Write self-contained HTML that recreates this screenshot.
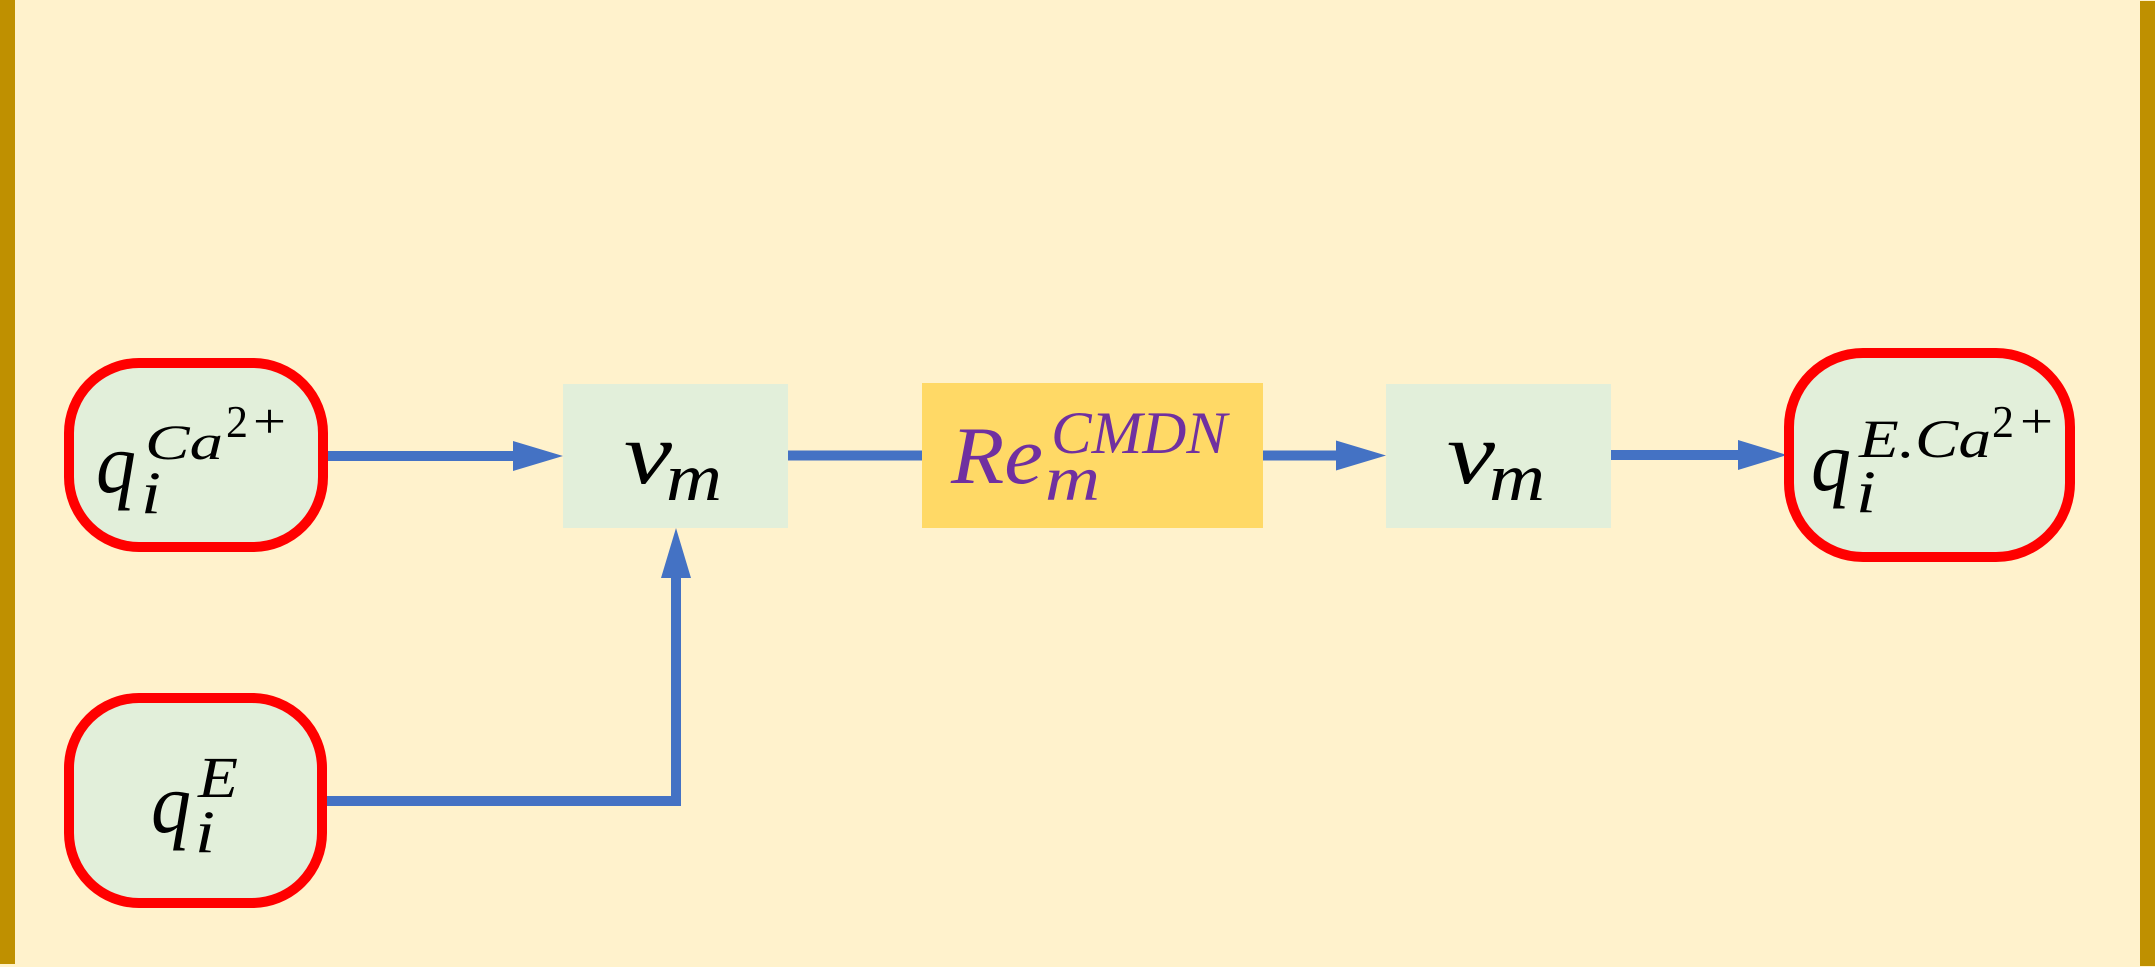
<!DOCTYPE html>
<html>
<head>
<meta charset="utf-8">
<style>
  html, body { margin: 0; padding: 0; background: #ffffff; }
  body { width: 2155px; height: 972px; overflow: hidden; }
  svg { display: block; }
  .m { font-family: "Liberation Serif", "DejaVu Serif", serif; font-style: italic; }
  .u { font-family: "Liberation Serif", "DejaVu Serif", serif; font-style: normal; }
</style>
</head>
<body>
<svg width="2155" height="972" viewBox="0 0 2155 972" xmlns="http://www.w3.org/2000/svg">
  <!-- background -->
  <rect x="0" y="0" width="2155" height="967" fill="#FFF2CC"/>
  <rect x="0" y="967" width="2155" height="5" fill="#FFFFFF"/>
  <!-- side bars -->
  <rect x="0" y="0" width="15" height="964" fill="#BF9000"/>
  <rect x="2140" y="1" width="15" height="965" fill="#BF9000"/>

  <!-- connectors -->
  <g fill="#4472C4" stroke="none">
    <rect x="323" y="451" width="192" height="10"/>
    <polygon points="513,441 563,456 513,471"/>
    <rect x="788" y="450.5" width="134" height="10"/>
    <rect x="1263" y="450.5" width="75" height="10"/>
    <polygon points="1336,440.5 1386,455.5 1336,470.5"/>
    <rect x="1611" y="450" width="129" height="10"/>
    <polygon points="1738,440 1787,455 1738,470"/>
    <rect x="325" y="796" width="356" height="10"/>
    <rect x="671" y="576" width="10" height="230"/>
    <polygon points="661,578 676,528 691,578"/>
  </g>

  <!-- rounded nodes -->
  <rect x="69" y="363" width="254" height="184" rx="70" ry="70" fill="#E2EFDA" stroke="#FF0000" stroke-width="10"/>
  <rect x="69" y="698" width="253" height="205" rx="70" ry="70" fill="#E2EFDA" stroke="#FF0000" stroke-width="10"/>
  <rect x="1789" y="353" width="281" height="204" rx="74" ry="74" fill="#E2EFDA" stroke="#FF0000" stroke-width="10"/>

  <!-- square nodes -->
  <rect x="563" y="384" width="225" height="144" fill="#E2EFDA"/>
  <rect x="922" y="383" width="341" height="145" fill="#FFD966"/>
  <rect x="1386" y="384" width="225" height="144" fill="#E2EFDA"/>

  <!-- text: q_i^{Ca^{2+}} -->
  <g fill="#000000">
    <text class="m" x="96" y="492" font-size="86" textLength="40" lengthAdjust="spacingAndGlyphs">q</text>
    <text class="m" x="141" y="513" font-size="60" textLength="20" lengthAdjust="spacingAndGlyphs">i</text>
    <text class="m" x="145" y="459" font-size="50" textLength="78" lengthAdjust="spacingAndGlyphs">Ca</text>
    <text class="u" x="226" y="437" font-size="46" textLength="22" lengthAdjust="spacingAndGlyphs">2</text>
    <text class="u" x="253" y="438" font-size="50" textLength="33" lengthAdjust="spacingAndGlyphs">+</text>
  </g>

  <!-- text: q_i^E -->
  <g fill="#000000">
    <text class="m" x="151" y="832" font-size="86" textLength="40" lengthAdjust="spacingAndGlyphs">q</text>
    <text class="m" x="195" y="852" font-size="60" textLength="20" lengthAdjust="spacingAndGlyphs">i</text>
    <text class="m" x="198" y="797" font-size="58" textLength="40" lengthAdjust="spacingAndGlyphs">E</text>
  </g>

  <!-- text: v_m (1) -->
  <g fill="#000000">
    <text class="m" x="624" y="483" font-size="88" textLength="48" lengthAdjust="spacingAndGlyphs">v</text>
    <text class="m" x="666" y="500" font-size="68" textLength="56" lengthAdjust="spacingAndGlyphs">m</text>
  </g>

  <!-- text: Re_m^{CMDN} -->
  <g fill="#7030A0">
    <text class="m" x="951" y="483" font-size="82" textLength="92" lengthAdjust="spacingAndGlyphs">Re</text>
    <text class="m" x="1045" y="500" font-size="64" textLength="55" lengthAdjust="spacingAndGlyphs">m</text>
    <text class="m" x="1051" y="453" font-size="60" textLength="176" lengthAdjust="spacingAndGlyphs">CMDN</text>
  </g>

  <!-- text: v_m (2) -->
  <g fill="#000000">
    <text class="m" x="1447" y="483" font-size="88" textLength="48" lengthAdjust="spacingAndGlyphs">v</text>
    <text class="m" x="1489" y="500" font-size="68" textLength="56" lengthAdjust="spacingAndGlyphs">m</text>
  </g>

  <!-- text: q_i^{E.Ca^{2+}} -->
  <g fill="#000000">
    <text class="m" x="1811" y="490" font-size="86" textLength="40" lengthAdjust="spacingAndGlyphs">q</text>
    <text class="m" x="1856" y="512" font-size="60" textLength="20" lengthAdjust="spacingAndGlyphs">i</text>
    <text class="m" x="1859" y="457" font-size="54" textLength="132" lengthAdjust="spacingAndGlyphs">E.Ca</text>
    <text class="u" x="1992" y="437" font-size="46" textLength="22" lengthAdjust="spacingAndGlyphs">2</text>
    <text class="u" x="2020" y="438" font-size="50" textLength="33" lengthAdjust="spacingAndGlyphs">+</text>
  </g>
</svg>
</body>
</html>
